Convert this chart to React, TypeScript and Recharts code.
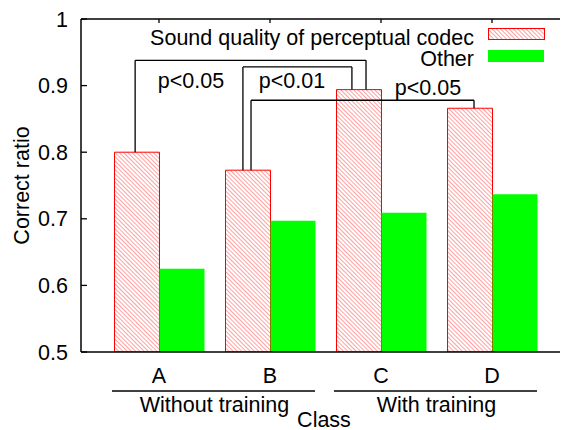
import React from 'react';
import { BarChart, Bar, XAxis, YAxis, ReferenceLine, ReferenceDot, Legend } from 'recharts';

// ---------- data ----------
const categories = ['A', 'B', 'C', 'D'];
const codecValues = [0.8, 0.773, 0.894, 0.866];
const otherValues = [0.625, 0.697, 0.709, 0.737];
const yTicks = [0.5, 0.6, 0.7, 0.8, 0.9, 1];
const seriesNames = ['Sound quality of perceptual codec', 'Other'];
const groupLabels = ['Without training', 'With training'];
const groupFirst = [0, 2];
const groupLast = [1, 3];
// significance brackets (x on category scale 1..4, y on value scale)
const bracketLabels = ['p<0.05', 'p<0.01', 'p<0.05'];
const bracketLeftX = [0.785, 1.756, 1.829];
const bracketRightX = [2.865, 2.738, 3.838];
const bracketTopY = [0.938, 0.928, 0.878];
const bracketLeftBottomY = [0.8, 0.773, 0.773];
const bracketRightBottomY = [0.894, 0.894, 0.866];
const bracketLabelX = [1.288, 2.198, 3.423];
const bracketLabelY = [0.908, 0.908, 0.898];

// ---------- layout ----------
const FONT = 'Liberation Sans, Arial, Helvetica, sans-serif';
const FS = 21.5;
const CHART_W = 560;
const CHART_H = 422;
const LEFT_W = 73;
const RIGHT_W = 1;
const TOP_H = 11;
const BOTTOM_H = 78;
const PAD_L = 22.5;
const PAD_R = 19.5;
const BAR = 45;
const PLOT_W = CHART_W - LEFT_W - RIGHT_W;
const BAND = (PLOT_W - PAD_L - PAD_R) / categories.length;
const NUM_LO = 0.5 - PAD_L / BAND;
const NUM_HI = categories.length + 0.5 + PAD_R / BAND;

const data = categories.map((c, i) => ({
  cat: c,
  pos: i + 1,
  codec: codecValues[i],
  other: otherValues[i],
}));

const LeftTick = (props: any) => {
  const { x, y, payload } = props;
  return (
    <g>
      <line x1={x + 13} x2={x + 19} y1={y} y2={y} stroke="#000" strokeWidth={1.3} />
      <text x={x} y={y} dy="0.358em" textAnchor="end" fontSize={FS} fontFamily={FONT} fill="#000">
        {String(payload.value)}
      </text>
    </g>
  );
};

const RightTick = (props: any) => {
  const { x, y } = props;
  return <line x1={x - 6} x2={x} y1={y} y2={y} stroke="#000" strokeWidth={1.3} />;
};

const TopTick = (props: any) => {
  const { x, y } = props;
  return <line x1={x} x2={x} y1={y} y2={y + 4} stroke="#000" strokeWidth={1.3} />;
};

const BottomTick = (props: any) => {
  const { x, y, payload, index } = props;
  const gi = groupFirst.indexOf(index);
  let group = null;
  if (gi >= 0) {
    const span = (groupLast[gi] - groupFirst[gi]) * BAND;
    group = (
      <g>
        <line x1={x - BAR - 2} x2={x + span + BAR} y1={y + 39} y2={y + 39} stroke="#000" strokeWidth={1.3} />
        <text x={x + span / 2} y={y + 59.5} textAnchor="middle" fontSize={FS} fontFamily={FONT} fill="#000">
          {groupLabels[gi]}
        </text>
      </g>
    );
  }
  return (
    <g>
      <text x={x} y={y + 31} textAnchor="middle" fontSize={FS} fontFamily={FONT} fill="#000">
        {payload.value}
      </text>
      {group}
    </g>
  );
};

const YLabel = (props: any) => {
  const vb = props.viewBox || { x: 0, y: TOP_H, width: LEFT_W, height: CHART_H - TOP_H - BOTTOM_H };
  const cx = vb.x + 13;
  const cy = vb.y + vb.height / 2;
  return (
    <text
      x={cx}
      y={cy}
      dy="0.358em"
      textAnchor="middle"
      transform={`rotate(-90, ${cx}, ${cy})`}
      fontSize={FS}
      fontFamily={FONT}
      fill="#000"
    >
      Correct ratio
    </text>
  );
};

const HatchDef = ({ id }: { id: string }) => (
  <pattern id={id} width={3} height={3} patternUnits="userSpaceOnUse" patternTransform="rotate(-45)">
    <rect width={3} height={3} fill="#ffffff" />
    <line x1={0} y1={0} x2={0} y2={3} stroke="#ff7878" strokeWidth={1.4} />
  </pattern>
);

const LegendContent = () => (
  <svg width={CHART_W} height={70} style={{ display: 'block' }}>
    <defs>
      <HatchDef id="hatchLegend" />
    </defs>
    <text x={466} y={37} textAnchor="end" fontSize={FS} fontFamily={FONT} fill="#000">
      {seriesNames[0]}
    </text>
    <rect x={480.5} y={20.5} width={56} height={11} fill="url(#hatchLegend)" stroke="#ff0000" strokeWidth={1} />
    <text x={466} y={57.5} textAnchor="end" fontSize={FS} fontFamily={FONT} fill="#000">
      {seriesNames[1]}
    </text>
    <rect x={480} y={42} width={56} height={12} fill="#00ff00" />
  </svg>
);

export default function App() {
  const lineStyle = { stroke: '#000', strokeWidth: 1.3 };
  return (
    <div style={{ fontFamily: FONT, width: CHART_W, height: CHART_H }}>
      <BarChart
        width={CHART_W}
        height={CHART_H}
        data={data}
        margin={{ top: 0, right: 0, bottom: 0, left: 0 }}
        barGap={0}
        barSize={BAR}
      >
        <defs>
          <HatchDef id="hatchBar" />
        </defs>
        <XAxis
          xAxisId="bottom"
          dataKey="cat"
          height={BOTTOM_H}
          padding={{ left: PAD_L, right: PAD_R }}
          interval={0}
          tickLine={false}
          tickSize={0}
          tickMargin={0}
          tick={BottomTick}
          axisLine={{ stroke: '#000', strokeWidth: 1.5 }}
          label={{ value: 'Class', position: 'insideBottom', offset: 3, fill: '#000', fontSize: FS, fontFamily: FONT }}
        />
        <XAxis
          xAxisId="top"
          orientation="top"
          dataKey="cat"
          height={TOP_H}
          padding={{ left: PAD_L, right: PAD_R }}
          interval={0}
          tickLine={false}
          tickSize={0}
          tickMargin={0}
          tick={TopTick}
          axisLine={{ stroke: '#000', strokeWidth: 1.5 }}
        />
        <XAxis xAxisId="n" type="number" dataKey="pos" domain={[NUM_LO, NUM_HI]} allowDataOverflow hide />
        <YAxis
          yAxisId="left"
          width={LEFT_W}
          domain={[0.5, 1]}
          ticks={yTicks}
          allowDataOverflow
          interval={0}
          tickLine={false}
          tickSize={0}
          tickMargin={13}
          tick={LeftTick}
          axisLine={{ stroke: '#000', strokeWidth: 1.5 }}
          label={{ value: 'Correct ratio', content: YLabel }}
        />
        <YAxis
          yAxisId="right"
          orientation="right"
          width={RIGHT_W}
          domain={[0.5, 1]}
          ticks={yTicks}
          allowDataOverflow
          interval={0}
          tickLine={false}
          tickSize={0}
          tickMargin={0}
          tick={RightTick}
          axisLine={false}
        />
        <Legend
          layout="vertical"
          align="center"
          verticalAlign="middle"
          content={LegendContent}
          wrapperStyle={{ top: 0, left: 0, width: CHART_W, height: 70 }}
        />
        <Bar
          xAxisId="bottom"
          yAxisId="left"
          dataKey="codec"
          name={seriesNames[0]}
          fill="url(#hatchBar)"
          stroke="#ff0000"
          strokeWidth={1}
          isAnimationActive={false}
        />
        <Bar
          xAxisId="bottom"
          yAxisId="left"
          dataKey="other"
          name={seriesNames[1]}
          fill="#00ff00"
          isAnimationActive={false}
        />
        {bracketLabels.map((lab, i) => (
          <ReferenceLine
            key={`bl${i}`}
            xAxisId="n"
            yAxisId="left"
            ifOverflow="visible"
            segment={[
              { x: bracketLeftX[i], y: bracketLeftBottomY[i] },
              { x: bracketLeftX[i], y: bracketTopY[i] },
            ]}
            {...lineStyle}
          />
        ))}
        {bracketLabels.map((lab, i) => (
          <ReferenceLine
            key={`bt${i}`}
            xAxisId="n"
            yAxisId="left"
            ifOverflow="visible"
            segment={[
              { x: bracketLeftX[i], y: bracketTopY[i] },
              { x: bracketRightX[i], y: bracketTopY[i] },
            ]}
            {...lineStyle}
          />
        ))}
        {bracketLabels.map((lab, i) => (
          <ReferenceLine
            key={`br${i}`}
            xAxisId="n"
            yAxisId="left"
            ifOverflow="visible"
            segment={[
              { x: bracketRightX[i], y: bracketTopY[i] },
              { x: bracketRightX[i], y: bracketRightBottomY[i] },
            ]}
            {...lineStyle}
          />
        ))}
        {bracketLabels.map((lab, i) => (
          <ReferenceDot
            key={`bd${i}`}
            xAxisId="n"
            yAxisId="left"
            x={bracketLabelX[i]}
            y={bracketLabelY[i]}
            r={0}
            fill="none"
            stroke="none"
            ifOverflow="visible"
            label={{ value: lab, position: 'center', fill: '#000', fontSize: FS, fontFamily: FONT }}
          />
        ))}
      </BarChart>
    </div>
  );
}
